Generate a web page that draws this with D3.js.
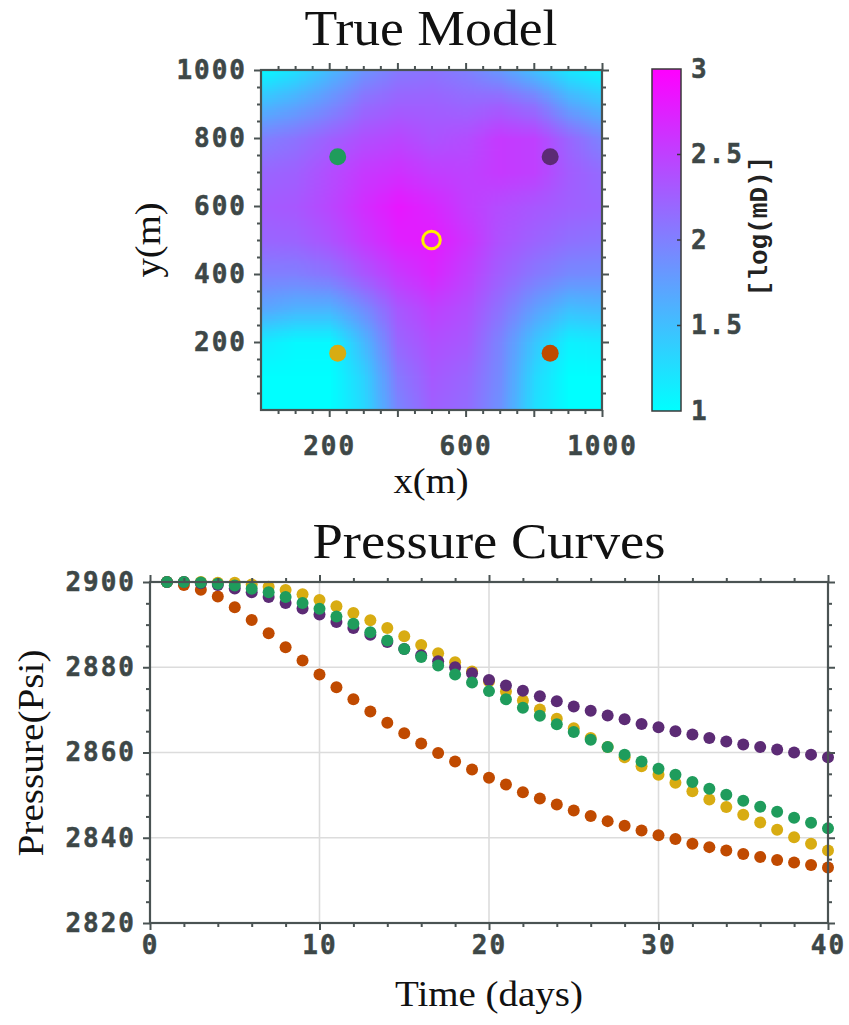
<!DOCTYPE html>
<html>
<head>
<meta charset="utf-8">
<script src="https://cdn.jsdelivr.net/npm/d3@7"></script>
<style>
  html, body { margin: 0; padding: 0; background: #fff; }
  svg { display: block; }
  .tick text { font-family: "DejaVu Sans Mono", monospace; font-weight: bold; font-size: 26px; fill: #3d4747; stroke: #3d4747; stroke-width: 0.5px; letter-spacing: 2px; }
  .tick line { stroke: #4a5353; stroke-width: 2; }
  .serif { font-family: "Liberation Serif", serif; fill: #111; }
</style>
</head>
<body>
<svg id="chart" width="849" height="1025"></svg>
<script>
// ---- permeability field (log mD), rows from y=1000 down to y=0 ----
const gridX = [0, 100, 200, 300, 400, 500, 600, 700, 800, 900, 1000];
const gridY = [1000, 900, 800, 700, 600, 500, 400, 300, 200, 100, 0];
const logPerm = [
  [1.05, 1.25, 1.55, 1.85, 2.05, 2.10, 2.00, 1.80, 1.50, 1.20, 1.05],
  [1.55, 1.70, 1.90, 2.15, 2.25, 2.25, 2.20, 2.25, 2.10, 1.70, 1.50],
  [2.00, 2.10, 2.25, 2.38, 2.45, 2.35, 2.40, 2.55, 2.50, 2.20, 1.95],
  [2.20, 2.25, 2.40, 2.55, 2.62, 2.52, 2.48, 2.55, 2.50, 2.28, 2.15],
  [2.28, 2.32, 2.45, 2.65, 2.82, 2.70, 2.52, 2.40, 2.32, 2.25, 2.20],
  [2.20, 2.22, 2.35, 2.55, 2.75, 2.80, 2.60, 2.35, 2.22, 2.12, 2.08],
  [2.00, 2.00, 2.08, 2.32, 2.55, 2.70, 2.50, 2.25, 2.05, 1.92, 1.90],
  [1.70, 1.60, 1.60, 1.90, 2.32, 2.50, 2.38, 2.10, 1.75, 1.50, 1.55],
  [1.15, 1.05, 1.05, 1.55, 2.20, 2.38, 2.30, 1.95, 1.45, 1.10, 1.15],
  [1.00, 1.00, 1.00, 1.35, 2.05, 2.30, 2.20, 1.90, 1.30, 1.00, 1.00],
  [1.00, 1.00, 1.00, 1.30, 1.95, 2.25, 2.15, 1.85, 1.25, 1.00, 1.00]
];

// ---- wells ----
const wellNames  = ["P1", "P2", "P3", "P4"];
const wellX      = [225, 848, 225, 848];
const wellY      = [745, 745, 167, 167];
const wellColors = ["#1f9c5c", "#5c2b75", "#d8ac12", "#c04a00"];
const injectorX = 500, injectorY = 500;

const cbTicks = [1, 1.5, 2, 2.5, 3];
const mapXTicks = [200, 600, 1000];
const mapYTicks = [200, 400, 600, 800, 1000];

// ---- pressure curves ----
const days = [1, 2, 3, 4, 5, 6, 7, 8, 9, 10, 11, 12, 13, 14, 15, 16, 17, 18, 19, 20,
              21, 22, 23, 24, 25, 26, 27, 28, 29, 30, 31, 32, 33, 34, 35, 36, 37, 38, 39, 40];
const pressP1 = [2900, 2900, 2899.9, 2899.6, 2899.2, 2898.4, 2897.6, 2896.5, 2895.1, 2893.7,
                 2891.9, 2890.2, 2888.2, 2886.3, 2884.3, 2882.4, 2880.4, 2878.3, 2876.4, 2874.4,
                 2872.5, 2870.5, 2868.6, 2866.6, 2864.8, 2863.0, 2861.3, 2859.5, 2857.9, 2856.2,
                 2854.8, 2853.1, 2851.5, 2850.1, 2848.7, 2847.3, 2846.1, 2844.7, 2843.5, 2842.2];
const pressP2 = [2900, 2900, 2899.7, 2899.3, 2898.5, 2897.6, 2896.5, 2895.1, 2893.8, 2892.4,
                 2890.6, 2889.2, 2887.6, 2885.9, 2884.3, 2882.8, 2881.4, 2880.0, 2878.6, 2877.0,
                 2875.7, 2874.5, 2873.2, 2872.0, 2870.8, 2869.8, 2868.7, 2867.8, 2866.7, 2865.9,
                 2865.0, 2864.2, 2863.4, 2862.6, 2861.9, 2861.3, 2860.7, 2860.0, 2859.5, 2858.9];
const pressP3 = [2900, 2900, 2900, 2899.8, 2899.8, 2899.4, 2898.9, 2898.1, 2897.1, 2895.8,
                 2894.3, 2892.7, 2891.0, 2889.2, 2887.3, 2885.2, 2883.3, 2881.2, 2879.0, 2876.7,
                 2874.3, 2872.2, 2870.1, 2867.9, 2865.7, 2863.4, 2861.3, 2858.9, 2856.8, 2854.8,
                 2852.9, 2850.9, 2849.0, 2847.2, 2845.4, 2843.6, 2841.9, 2840.1, 2838.6, 2837.0];
const pressP4 = [2900, 2899.3, 2898.2, 2896.6, 2894.1, 2891.1, 2888.0, 2884.7, 2881.6, 2878.3,
                 2875.3, 2872.5, 2869.6, 2867.0, 2864.5, 2862.1, 2859.9, 2857.9, 2856.0, 2854.1,
                 2852.5, 2850.7, 2849.2, 2847.8, 2846.4, 2845.1, 2843.9, 2842.8, 2841.7, 2840.6,
                 2839.7, 2838.6, 2837.8, 2837.0, 2836.2, 2835.5, 2834.8, 2834.2, 2833.6, 2833.0];
const pressXTicks = [0, 10, 20, 30, 40];
const pressYTicks = [2820, 2840, 2860, 2880, 2900];

const frameColor = "#4a5353";
const svg = d3.select("#chart");
svg.append("rect").attr("width", 849).attr("height", 1025).attr("fill", "#fff");

const color = d3.scaleLinear().domain([1, 3]).range(["#00ffff", "#ff00ff"]);

// draws major/minor ticks on all four sides; labels only left/bottom
function frameAxes(g, x, y, opt) {
  const w = x.range()[1] - x.range()[0], h = y.range()[0] - y.range()[1];
  const minorX = opt.xMinor.filter(v => !opt.xMajor.includes(v));
  const minorY = opt.yMinor.filter(v => !opt.yMajor.includes(v));
  const sides = [
    [d3.axisBottom, x, "translate(0," + h + ")"],
    [d3.axisTop, x, "translate(0,0)"],
    [d3.axisLeft, y, "translate(0,0)"],
    [d3.axisRight, y, "translate(" + w + ",0)"]
  ];
  sides.forEach(([axisFn, sc, tr], i) => {
    const isX = i < 2;
    const labeled = i === 0 || i === 2;
    const majors = isX ? opt.xMajor : opt.yMajor;
    const minors = isX ? minorX : minorY;
    g.append("g").attr("transform", tr)
      .call(axisFn(sc).tickValues(minors).tickSize(4).tickFormat(""))
      .call(a => a.select(".domain").remove());
    const ax = g.append("g").attr("transform", tr)
      .call(axisFn(sc).tickValues(majors).tickSize(7).tickPadding(labeled ? (isX ? opt.xPad : 7) : 0)
        .tickFormat(labeled ? d3.format("") : ""))
      .call(a => a.select(".domain").remove());
    if (labeled && isX) {
      ax.selectAll(".tick text").filter(d => !opt.xLabels.includes(d)).remove();
    }
  });
  g.append("rect").attr("width", w).attr("height", h)
    .attr("fill", "none").attr("stroke", frameColor).attr("stroke-width", 2.2);
}

// ================= True Model =================
const mx = d3.scaleLinear().domain([0, 1000]).range([261, 602]);
const my = d3.scaleLinear().domain([0, 1000]).range([410, 70]);

const canvas = document.createElement("canvas");
canvas.width = gridX.length; canvas.height = gridY.length;
const ctx = canvas.getContext("2d");
const img = ctx.createImageData(gridX.length, gridY.length);
logPerm.forEach((row, r) => row.forEach((v, c) => {
  const col = d3.rgb(color(v));
  const k = (r * gridX.length + c) * 4;
  img.data[k] = col.r; img.data[k + 1] = col.g; img.data[k + 2] = col.b; img.data[k + 3] = 255;
}));
ctx.putImageData(img, 0, 0);

svg.append("clipPath").attr("id", "mapclip")
  .append("rect").attr("x", mx(0)).attr("y", my(1000))
  .attr("width", mx(1000) - mx(0)).attr("height", my(0) - my(1000));

const half = (gridX[1] - gridX[0]) / 2;
svg.append("g").attr("clip-path", "url(#mapclip)")
  .append("image")
  .attr("href", canvas.toDataURL())
  .attr("x", mx(gridX[0] - half)).attr("y", my(gridY[0] + half))
  .attr("width", mx(gridX[gridX.length - 1] + half) - mx(gridX[0] - half))
  .attr("height", my(gridY[gridY.length - 1] - half) - my(gridY[0] + half))
  .attr("preserveAspectRatio", "none")
  .style("image-rendering", "auto");

svg.append("g").selectAll("circle").data(wellNames).join("circle")
  .attr("cx", (d, i) => mx(wellX[i])).attr("cy", (d, i) => my(wellY[i]))
  .attr("r", 8.5).attr("fill", (d, i) => wellColors[i]);
svg.append("circle").attr("cx", mx(injectorX)).attr("cy", my(injectorY))
  .attr("r", 8.8).attr("fill", "none").attr("stroke", "#ffee00").attr("stroke-width", 3);

const gMap = svg.append("g").attr("transform", "translate(" + mx(0) + "," + my(1000) + ")");
const mxl = mx.copy().range([0, mx(1000) - mx(0)]);
const myl = my.copy().range([my(0) - my(1000), 0]);
frameAxes(gMap, mxl, myl, {
  xMajor: [200, 400, 600, 800, 1000], xMinor: d3.range(50, 1001, 50), xLabels: mapXTicks,
  yMajor: mapYTicks, yMinor: d3.range(50, 1001, 50), xPad: 20
});

svg.append("text").attr("class", "serif").attr("x", 431).attr("y", 45)
  .attr("text-anchor", "middle").attr("font-size", 50)
  .attr("textLength", 253).attr("lengthAdjust", "spacingAndGlyphs").text("True Model");
svg.append("text").attr("class", "serif").attr("x", 431).attr("y", 493)
  .attr("text-anchor", "middle").attr("font-size", 35)
  .attr("textLength", 75).attr("lengthAdjust", "spacingAndGlyphs").text("x(m)");
svg.append("text").attr("class", "serif")
  .attr("transform", "translate(160,240) rotate(-90)")
  .attr("text-anchor", "middle").attr("font-size", 35)
  .attr("textLength", 75).attr("lengthAdjust", "spacingAndGlyphs").text("y(m)");

// ---- colorbar ----
const cb = d3.scaleLinear().domain([1, 3]).range([411, 69]);
const grad = svg.append("defs").append("linearGradient").attr("id", "cbgrad")
  .attr("x1", 0).attr("y1", 1).attr("x2", 0).attr("y2", 0);
cbTicks.forEach(v => grad.append("stop")
  .attr("offset", (v - 1) / 2).attr("stop-color", color(v)));
svg.append("rect").attr("x", 652).attr("y", cb(3)).attr("width", 29)
  .attr("height", cb(1) - cb(3)).attr("fill", "url(#cbgrad)")
  .attr("stroke", "#3a3a3a").attr("stroke-width", 1.5);
svg.append("g").attr("transform", "translate(681,0)")
  .call(d3.axisRight(cb).tickValues(cbTicks).tickSize(0).tickPadding(10).tickFormat(d3.format("")))
  .call(a => a.select(".domain").remove());
svg.append("g").selectAll("line").data(cbTicks.slice(1, -1)).join("line")
  .attr("x1", 677).attr("x2", 681).attr("y1", d => cb(d)).attr("y2", d => cb(d))
  .attr("stroke", "#3a3a3a").attr("stroke-width", 1.5);
svg.append("text").attr("transform", "translate(767,226) rotate(-90)")
  .attr("text-anchor", "middle")
  .style("font-family", "'Liberation Mono', monospace").style("font-weight", "bold")
  .style("font-size", "26px").style("fill", "#222")
  .text("[log(mD)]");

// ================= Pressure Curves =================
const px = d3.scaleLinear().domain([0, 40]).range([150, 828]);
const py = d3.scaleLinear().domain([2820, 2900]).range([923, 582]);
const gP = svg.append("g").attr("transform", "translate(150,582)");
const pxl = px.copy().range([0, 678]);
const pyl = py.copy().range([341, 0]);

gP.append("g").selectAll("line").data([10, 20, 30]).join("line")
  .attr("x1", d => pxl(d)).attr("x2", d => pxl(d)).attr("y1", 0).attr("y2", 341)
  .attr("stroke", "#dcdcdc").attr("stroke-width", 1.6);
gP.append("g").selectAll("line").data([2840, 2860, 2880]).join("line")
  .attr("y1", d => pyl(d)).attr("y2", d => pyl(d)).attr("x1", 0).attr("x2", 678)
  .attr("stroke", "#dcdcdc").attr("stroke-width", 1.6);

const series = [
  { name: "P4", values: pressP4, color: wellColors[3] },
  { name: "P3", values: pressP3, color: wellColors[2] },
  { name: "P2", values: pressP2, color: wellColors[1] },
  { name: "P1", values: pressP1, color: wellColors[0] }
];
series.forEach(s => {
  gP.append("g").selectAll("circle").data(days).join("circle")
    .attr("cx", d => pxl(d)).attr("cy", (d, i) => pyl(s.values[i]))
    .attr("r", 6).attr("fill", s.color);
});

frameAxes(gP, pxl, pyl, {
  xMajor: pressXTicks, xMinor: d3.range(0, 41, 2), xLabels: pressXTicks,
  yMajor: pressYTicks, yMinor: d3.range(2820, 2901, 5), xPad: 6
});

svg.append("text").attr("class", "serif").attr("x", 489).attr("y", 558)
  .attr("text-anchor", "middle").attr("font-size", 50)
  .attr("textLength", 353).attr("lengthAdjust", "spacingAndGlyphs").text("Pressure Curves");
svg.append("text").attr("class", "serif").attr("x", 489).attr("y", 1006)
  .attr("text-anchor", "middle").attr("font-size", 35)
  .attr("textLength", 188).attr("lengthAdjust", "spacingAndGlyphs").text("Time (days)");
svg.append("text").attr("class", "serif")
  .attr("transform", "translate(43,753) rotate(-90)")
  .attr("text-anchor", "middle").attr("font-size", 35)
  .attr("textLength", 207).attr("lengthAdjust", "spacingAndGlyphs").text("Pressure(Psi)");
</script>
</body>
</html>
